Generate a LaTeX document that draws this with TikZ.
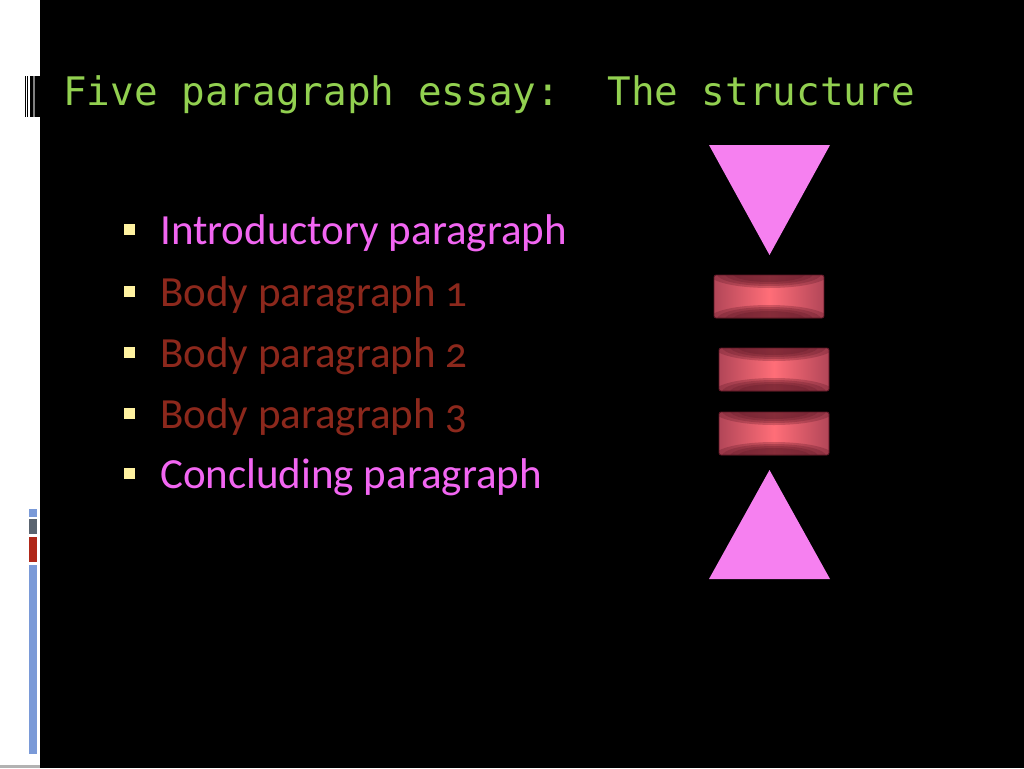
\documentclass[tikz,border=0pt]{standalone}
\usepackage{fontspec}
\setmainfont{Carlito}[Numbers=OldStyle]
\newfontfamily\titlefont{DejaVu Sans Mono}
\usetikzlibrary{calc}

\definecolor{titlegreen}{RGB}{146,208,80}
\definecolor{itemviolet}{RGB}{242,102,242}
\definecolor{itembrown}{RGB}{140,40,28}
\definecolor{bulletyellow}{RGB}{255,242,160}
\definecolor{tripink}{RGB}{246,128,240}
\definecolor{barmid}{RGB}{178,70,88}
\definecolor{barhi}{RGB}{255,110,120}
\definecolor{bardark}{RGB}{90,22,36}
\definecolor{stripblue}{RGB}{122,154,216}
\definecolor{stripgray}{RGB}{90,100,112}
\definecolor{stripred}{RGB}{176,40,26}

\tikzset{
  item/.style={anchor=base west, inner sep=0pt, font=\fontsize{43}{43}\selectfont},
  bullet/.style={fill=bulletyellow, draw=none, minimum size=10.5pt, inner sep=0pt},
  tri/.style={fill=tripink, draw=none}
}

\begin{document}
\begin{tikzpicture}[x=1pt, y=-1pt]

  \useasboundingbox (0, 0) rectangle (1024, 768);

  % slide background and left strip
  \fill[white] (0, 0) rectangle (40, 768);
  \fill[black] (40, 0) rectangle (1024, 768);
  \fill[gray!60] (0, 765) rectangle (40, 768);

  \foreach \xa/\xb in {25/26, 27/28.3, 29.5/33, 35/40} {
    \fill[black] (\xa, 76) rectangle (\xb, 117);
  }
  \fill[gray] (33, 76) rectangle (35, 117);

  \fill[stripblue] (29, 509) rectangle (37, 517);
  \fill[stripgray] (29, 519) rectangle (37, 534);
  \fill[stripred]  (29, 537) rectangle (37, 562);
  \fill[stripblue] (29, 565) rectangle (37, 754);

  % title
  \node[anchor=base west, inner sep=0pt, text=titlegreen,
        font=\titlefont\fontsize{39.3}{39.3}\selectfont] (title) at (63, 105)
       {Five paragraph essay:\ \ The structure};

  % bullet list
  \foreach \y/\txt/\col [count=\n] in {244/Introductory paragraph/itemviolet,
                                       306/Body paragraph 1/itembrown,
                                       367/Body paragraph 2/itembrown,
                                       428/Body paragraph 3/itembrown,
                                       488/Concluding paragraph/itemviolet} {
    \node[bullet] (dot\n) at (129.5, \y - 14.5) {};
    \node[item, text=\col] (item\n) at (160, \y) {\txt};
  }

  % triangles
  \fill[tri] (709, 145) -- (830, 145) -- (769.5, 255) -- cycle;
  \fill[tri] (709, 579) -- (830, 579) -- (769.5, 470) -- cycle;

  % shaded bars
  \pgfmathsetmacro{\bw}{110}
  \pgfmathsetmacro{\bh}{43}
  \foreach \x/\y in {714/275, 719/348, 719/412} {
    \begin{scope}[shift={(\x, \y)}]
      \begin{scope}
        \clip[rounded corners=2pt] (0, 0) rectangle (\bw, \bh);
        \shade[left color=barmid, right color=barmid, middle color=barhi]
             (0, 0) rectangle (\bw, \bh);
        \foreach \rx/\ry in {60/14, 52/12, 44/10, 36/8} {
          \fill[bardark, opacity=0.28] (\bw/2, -1) ellipse [x radius=\rx pt, y radius=\ry pt];
          \fill[bardark, opacity=0.28] (\bw/2, \bh+1) ellipse [x radius=\rx pt, y radius=\ry pt];
        }
      \end{scope}
      \draw[bardark, line width=0.8pt, rounded corners=2pt] (0, 0) rectangle (\bw, \bh);
    \end{scope}
  }

\end{tikzpicture}
\end{document}
